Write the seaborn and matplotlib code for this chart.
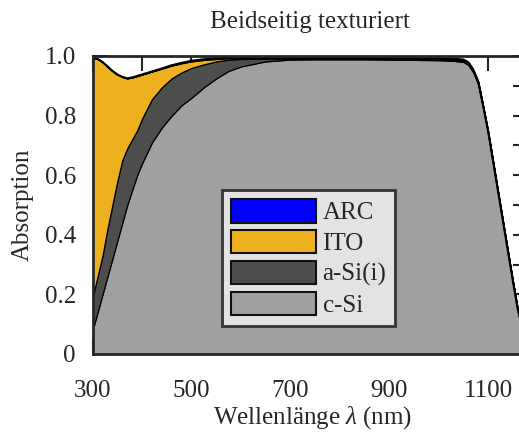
import numpy as np
import matplotlib
matplotlib.use("Agg")
from matplotlib import pyplot as plt
import seaborn as sns

# wavelength grid (nm)
wavelength = [300, 310, 320, 330, 340, 350, 360, 370, 380, 390, 400, 420, 440,
              460, 480, 500, 525, 550, 575, 600, 650, 700, 750, 800, 850, 900,
              950, 1000, 1030, 1050, 1060, 1070, 1080, 1090, 1100, 1110, 1120,
              1130, 1140, 1150, 1160, 1170, 1180]

# absorption per layer
c_si = [0.08, 0.14, 0.20, 0.26, 0.32, 0.38, 0.44, 0.50, 0.55, 0.60, 0.64, 0.71,
        0.76, 0.80, 0.835, 0.86, 0.895, 0.925, 0.95, 0.965, 0.982, 0.988, 0.989,
        0.989, 0.989, 0.988, 0.987, 0.986, 0.984, 0.980, 0.970, 0.945, 0.905,
        0.825, 0.74, 0.64, 0.54, 0.44, 0.34, 0.24, 0.145, 0.08, 0.04]
a_si = [0.11, 0.12, 0.13, 0.16, 0.18, 0.20, 0.21, 0.19, 0.17, 0.15, 0.15, 0.145,
        0.135, 0.125, 0.11, 0.10, 0.077, 0.057, 0.038, 0.025, 0.009, 0.003, 0.002,
        0.002, 0.002, 0.002, 0.002, 0.002, 0.002, 0.002, 0.002, 0.002, 0.002,
        0.002, 0.002, 0.002, 0.002, 0.002, 0.002, 0.002, 0.002, 0.002, 0.002]
ito = [0.805, 0.73, 0.65, 0.545, 0.45, 0.358, 0.28, 0.235, 0.208, 0.183, 0.148,
       0.093, 0.063, 0.043, 0.031, 0.022, 0.015, 0.008, 0.005, 0.003, 0.001, 0.001,
       0.001, 0.001, 0.001, 0.001, 0.001, 0.001, 0.002, 0.003, 0.004, 0.004, 0.004,
       0.003, 0.003, 0.003, 0.002, 0.002, 0.002, 0.002, 0.001, 0.001, 0.001]
arc = [0.0, 0.0, 0.0, 0.0, 0.0, 0.0, 0.0, 0.0, 0.0, 0.0, 0.0, 0.0, 0.0, 0.001,
       0.001, 0.002, 0.002, 0.003, 0.003, 0.003, 0.003, 0.003, 0.003, 0.003, 0.003,
       0.003, 0.003, 0.003, 0.003, 0.003, 0.003, 0.003, 0.003, 0.002, 0.002, 0.002,
       0.002, 0.002, 0.001, 0.001, 0.001, 0.001, 0.001]

labels = ["c-Si", "a-Si(i)", "ITO", "ARC"]
colors = ["#a0a0a0", "#4d4d4d", "#edb120", "#0000ff"]

sns.set_style("ticks")
plt.rcParams["font.family"] = ["Liberation Serif", "DejaVu Serif"]
plt.rcParams["mathtext.fontset"] = "custom"
plt.rcParams["mathtext.it"] = "Liberation Serif:italic"
plt.rcParams["mathtext.rm"] = "Liberation Serif"

fig = plt.figure(figsize=(5.19, 4.32), dpi=100)
ax = fig.add_axes([92.6 / 519, 78 / 432, 435.1 / 519, 298 / 432])

ax.stackplot(wavelength, c_si, a_si, ito, arc, colors=colors,
             edgecolor="black", linewidth=0.9, labels=labels)

# outline of total absorption
total = np.sum([c_si, a_si, ito, arc], axis=0)
sns.lineplot(x=wavelength, y=total, color="black", linewidth=1.5, ax=ax)

ax.set_xlim(300, 1180)
ax.set_ylim(0, 1)
ax.set_xticks(range(300, 1200, 200))
ax.set_xticks(range(400, 1200, 200), minor=True)
ax.set_yticks([0, 0.2, 0.4, 0.6, 0.8, 1.0], ["0", "0.2", "0.4", "0.6", "0.8", "1.0"])
ax.set_yticks([0.1, 0.3, 0.5, 0.7, 0.9], minor=True)
ax.tick_params(which="both", direction="in", length=11, width=1.5,
               top=True, right=True, color="#262626", labelsize=18)
ax.tick_params(axis="x", pad=19)
ax.tick_params(axis="y", pad=12)
for s in ax.spines.values():
    s.set_linewidth(2)
    s.set_color("#262626")

ax.set_xlabel(r"Wellenlänge $\mathit{\lambda}$ (nm)", fontsize=18)
ax.xaxis.set_label_coords(0.505, -0.168)
ax.set_ylabel("Absorption", fontsize=18)
ax.yaxis.set_label_coords(-0.135, 0.5)
ax.set_title("Beidseitig texturiert", fontsize=18, pad=20)

handles, labs = ax.get_legend_handles_labels()
leg = ax.legend(handles[::-1], labs[::-1], loc="upper left",
                bbox_to_anchor=(0.297, 0.550), borderaxespad=0, fontsize=18,
                frameon=True, fancybox=False, framealpha=1, facecolor="#e3e3e3",
                edgecolor="#333333", handlelength=3.4, handleheight=1.08,
                handletextpad=0.28, labelspacing=0.22, borderpad=0.35)
leg.get_frame().set_linewidth(2)
for h in leg.legend_handles:
    h.set_edgecolor("#111111")
    h.set_linewidth(1.5)

fig.savefig("out.png", dpi=100)
